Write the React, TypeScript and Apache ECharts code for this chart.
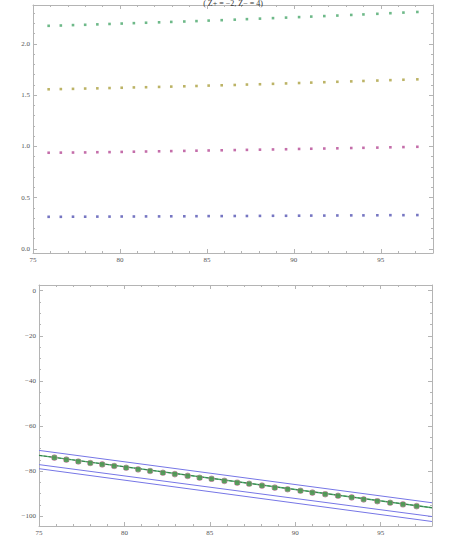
import React, { useEffect, useRef } from "react";
import * as echarts from "echarts";

// ---- data ----
const xValues = [75.9, 76.6, 77.3, 78.0, 78.7, 79.4, 80.1, 80.8, 81.5, 82.25, 82.95, 83.7, 84.4, 85.1, 85.85, 86.6, 87.3, 88.05, 88.8, 89.55, 90.3, 91.0, 91.75, 92.5, 93.3, 94.0, 94.8, 95.55, 96.3, 97.1];

const greenTop = [2.177, 2.180, 2.184, 2.187, 2.191, 2.195, 2.199, 2.203, 2.207, 2.211, 2.215, 2.219, 2.223, 2.228, 2.232, 2.237, 2.242, 2.247, 2.252, 2.257, 2.262, 2.267, 2.272, 2.277, 2.283, 2.288, 2.294, 2.300, 2.306, 2.312];
const oliveTop = [1.558, 1.560, 1.562, 1.565, 1.567, 1.570, 1.573, 1.576, 1.578, 1.581, 1.584, 1.587, 1.590, 1.594, 1.597, 1.600, 1.604, 1.607, 1.611, 1.615, 1.619, 1.623, 1.627, 1.631, 1.635, 1.639, 1.643, 1.647, 1.651, 1.655];
const magentaTop = [0.939, 0.940, 0.941, 0.942, 0.944, 0.945, 0.947, 0.949, 0.951, 0.953, 0.955, 0.957, 0.959, 0.961, 0.963, 0.965, 0.967, 0.969, 0.971, 0.973, 0.976, 0.978, 0.980, 0.982, 0.985, 0.987, 0.989, 0.992, 0.994, 0.997];
const blueTop = [0.314, 0.314, 0.315, 0.315, 0.316, 0.316, 0.317, 0.317, 0.318, 0.318, 0.319, 0.319, 0.320, 0.321, 0.321, 0.322, 0.322, 0.323, 0.324, 0.324, 0.325, 0.326, 0.326, 0.327, 0.328, 0.328, 0.329, 0.330, 0.330, 0.331];

const bottomPoints = [-74.0, -74.9, -75.7, -76.4, -77.0, -77.7, -78.5, -79.2, -79.9, -80.7, -81.3, -82.1, -82.9, -83.4, -84.3, -85.1, -85.6, -86.4, -87.3, -88.0, -88.7, -89.5, -90.2, -90.9, -91.6, -92.5, -93.3, -94.0, -94.7, -95.5];

const lineXs = [75, 98];
const blueUpper = [-70.8, -94.0];
const greenFit = [-73.0, -96.2];
const blueMiddle = [-77.1, -100.1];
const blueLower = [-78.9, -102.3];

const xTickLabels = [75, 80, 85, 90, 95];
const xMinorTicks = [76, 77, 78, 79, 81, 82, 83, 84, 86, 87, 88, 89, 91, 92, 93, 94, 96, 97];
const yTopLabels = [0, 0.5, 1, 1.5, 2];
const yTopMinor = [0.1, 0.2, 0.3, 0.4, 0.6, 0.7, 0.8, 0.9, 1.1, 1.2, 1.3, 1.4, 1.6, 1.7, 1.8, 1.9, 2.1, 2.2, 2.3];
const yBotLabels = [0, -20, -40, -60, -80, -100];
const yBotMinor = [-5, -10, -15, -25, -30, -35, -45, -50, -55, -65, -70, -75, -85, -90, -95];

const title = "( Z+ = −2, Z− = 4)";

const FRAME = "#b4b4b4";
const LABEL = "#555555";
const FONT = "'Liberation Serif', 'DejaVu Serif', serif";

function makeAxes(
  kind: "x" | "y",
  gridIndex: number,
  min: number,
  max: number,
  major: number[],
  minor: number[],
  fmt: (v: number) => string
) {
  const posA = kind === "x" ? "bottom" : "left";
  const posB = kind === "x" ? "top" : "right";
  const base = (position: string, ticks: number[], len: number, labels: boolean, line: boolean) => ({
    type: "value",
    gridIndex,
    position,
    min,
    max,
    splitLine: { show: false },
    axisLine: { show: line, onZero: false, lineStyle: { color: FRAME, width: 1 } },
    axisTick: { show: true, inside: true, length: len, customValues: ticks, lineStyle: { color: FRAME, width: 1 } },
    axisLabel: labels
      ? {
          show: true,
          customValues: major,
          formatter: (v: number) => fmt(v),
          color: LABEL,
          fontFamily: FONT,
          fontSize: 7,
          margin: 3,
        }
      : { show: false },
  });
  return [
    base(posA, major, 4, true, true),
    base(posA, minor, 2, false, false),
    base(posB, major, 4, false, true),
    base(posB, minor, 2, false, false),
  ];
}

export default function App() {
  const ref = useRef<HTMLDivElement>(null);
  useEffect(() => {
    if (!ref.current) return;
    const chart = echarts.init(ref.current, null, { renderer: "svg" });
    const fmtTopY = (v: number) => v.toFixed(1);
    const fmtInt = (v: number) => String(Math.round(v)).replace("-", "−");
    const fmtX = (v: number) => String(Math.round(v));

    const xAxes = [
      ...makeAxes("x", 0, 75, 98, xTickLabels, xMinorTicks, fmtX),
      ...makeAxes("x", 1, 75, 98, xTickLabels, xMinorTicks, fmtX),
    ];
    const yAxes = [
      ...makeAxes("y", 0, -0.039, 2.38, yTopLabels, yTopMinor, fmtTopY),
      ...makeAxes("y", 1, -104.3, 2.5, yBotLabels, yBotMinor, fmtInt),
    ];

    const pts = (ys: number[]) => xValues.map((x, i) => [x, ys[i]]);
    const seg = (ys: number[]) => lineXs.map((x, i) => [x, ys[i]]);

    const topScatter = (ys: number[], color: string) => ({
      type: "scatter",
      xAxisIndex: 0,
      yAxisIndex: 0,
      symbol: "rect",
      symbolSize: 2.6,
      itemStyle: { color },
      data: pts(ys),
    });
    const botLine = (ys: number[], color: string, width: number, type: string = "solid") => ({
      type: "line",
      xAxisIndex: 4,
      yAxisIndex: 4,
      showSymbol: false,
      symbol: "none",
      lineStyle: { color, width, type },
      data: seg(ys),
    });

    chart.setOption({
      animation: false,
      backgroundColor: "#ffffff",
      grid: [
        { left: 33, right: 24, top: 5, height: 248 },
        { left: 39, right: 25, top: 285, height: 243 },
      ],
      xAxis: xAxes,
      yAxis: yAxes,
      graphic: [
        {
          type: "text",
          x: 233,
          y: 3,
          z: 100,
          style: {
            text: title,
            fontFamily: FONT,
            fontSize: 8,
            fill: "#333333",
            textAlign: "center",
            textVerticalAlign: "middle",
          },
        },
      ],
      series: [
        topScatter(greenTop, "#4aa86c"),
        topScatter(oliveTop, "#ab a040".replace(" ", "")),
        topScatter(magentaTop, "#b54a95"),
        topScatter(blueTop, "#5454b3"),
        botLine(blueUpper, "#7676e6", 1),
        botLine(blueMiddle, "#7676e6", 1),
        botLine(blueLower, "#7676e6", 1),
        botLine(greenFit, "#52b070", 1.4),
        botLine(greenFit, "#2f6f3f", 0.8, "dashed"),
        {
          type: "scatter",
          xAxisIndex: 4,
          yAxisIndex: 4,
          symbol: "circle",
          symbolSize: 6.5,
          itemStyle: { color: "#b87a94" },
          data: pts(bottomPoints),
          z: 3,
        },
        {
          type: "scatter",
          xAxisIndex: 4,
          yAxisIndex: 4,
          symbol: "rect",
          symbolSize: 4.6,
          itemStyle: { color: "#3c9e48" },
          data: pts(bottomPoints),
          z: 4,
        },
      ],
    });
    return () => chart.dispose();
  }, []);
  return (
    <div
      ref={ref}
      style={{ position: "absolute", left: 0, top: 0, width: 457, height: 536 }}
    />
  );
}
